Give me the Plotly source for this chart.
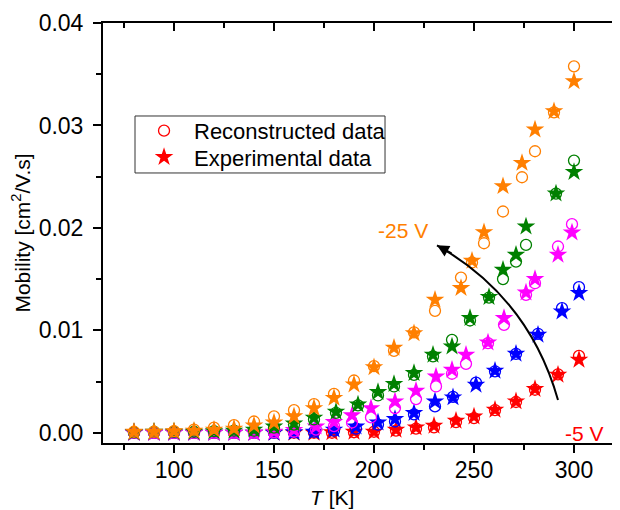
import plotly.graph_objects as go

# -5 V (red)
T_red = [80, 90, 100, 110, 120, 130, 140, 150, 160, 170, 179, 190, 200, 211, 221, 230, 241, 250, 260.5, 271, 280.5, 292, 302.5]
rec_red = [0, 0, 0, 0, 0, 0, 0, 0, 0, 0, 0, 0.00005, 0.0001, 0.00021, 0.0004, 0.00052, 0.00104, 0.00143, 0.0022, 0.0030, 0.0042, 0.0057, 0.00751]
exp_red = [0, 0, 0, 0, 0, 0, 0, 0, 0, 0, 0.00005, 0.0001, 0.0001, 0.00029, 0.00052, 0.00068, 0.00117, 0.00159, 0.00224, 0.00306, 0.00426, 0.00566, 0.00712]

# -10 V (blue)
T_blue = [80, 90, 100, 110, 120, 130, 140, 150, 160, 170, 180, 191, 202, 210.5, 220, 230.5, 239.5, 251, 260.5, 271, 282, 294, 302.5]
rec_blue = [0, 0, 0, 0, 0, 0, 0, 0, 0.00005, 0.0001, 0.0002, 0.0004, 0.0008, 0.0011, 0.0018, 0.00257, 0.0035, 0.0049, 0.0060, 0.0077, 0.00966, 0.01216, 0.01421]
exp_blue = [0, 0, 0, 0, 0, 0, 0, 0, 0.00005, 0.0001, 0.0003, 0.0006, 0.0010, 0.00134, 0.00192, 0.00306, 0.00345, 0.00468, 0.00605, 0.00771, 0.00956, 0.01183, 0.01363]

# -15 V (magenta)
T_mag = [80, 90, 100, 110, 120, 130, 140, 150, 160, 171, 180, 189, 198.5, 210.5, 221, 231, 239, 246, 257, 265, 276, 280.5, 292, 299]
rec_mag = [0, 0, 0, 0, 0, 0, 0, 0.00005, 0.0001, 0.0003, 0.00065, 0.0010, 0.0015, 0.00241, 0.00329, 0.00452, 0.00576, 0.00673, 0.00874, 0.01054, 0.01346, 0.0146, 0.01818, 0.02036]
exp_mag = [0, 0, 0, 0, 0, 0, 0, 0.0001, 0.00026, 0.0006, 0.00104, 0.0017, 0.0024, 0.00306, 0.0041, 0.00549, 0.00615, 0.00761, 0.00881, 0.01119, 0.01369, 0.015, 0.01737, 0.01954]

# -20 V (green)
T_grn = [80, 90, 100, 110, 120, 130, 140, 150, 160, 170, 181, 192, 202, 210, 220, 229.5, 239, 248, 257.5, 264.5, 271, 276, 291, 300]
rec_grn = [0.00005, 0.0001, 0.0001, 0.0001, 0.00015, 0.0002, 0.0002, 0.0005, 0.0008, 0.0013, 0.00195, 0.00267, 0.00364, 0.00452, 0.00565, 0.00745, 0.00907, 0.01096, 0.0132, 0.015, 0.01671, 0.01834, 0.02335, 0.02657]
exp_grn = [0.00005, 0.0001, 0.0001, 0.0001, 0.00015, 0.0002, 0.0003, 0.0006, 0.0009, 0.00146, 0.00205, 0.00276, 0.00397, 0.00475, 0.00582, 0.00761, 0.00842, 0.01119, 0.01324, 0.0159, 0.01737, 0.02013, 0.02335, 0.02546]

# -25 V (orange)
T_org = [80, 90, 100, 110, 120, 130, 140, 150, 160, 170, 180, 190, 200, 210, 220, 230.5, 243.5, 249, 255, 264.5, 274, 280.5, 290, 300]
rec_org = [0.0001, 0.0001, 0.00015, 0.0003, 0.0005, 0.00075, 0.0011, 0.0016, 0.0022, 0.0028, 0.0038, 0.0051, 0.0065, 0.0080, 0.0098, 0.0119, 0.01515, 0.01662, 0.0185, 0.0216, 0.02494, 0.02748, 0.03128, 0.03577]
exp_org = [0.0001, 0.0001, 0.00015, 0.0002, 0.0003, 0.0004, 0.0007, 0.0010, 0.0016, 0.0024, 0.0034, 0.0047, 0.0064, 0.0083, 0.0097, 0.01298, 0.01412, 0.01678, 0.01958, 0.02407, 0.02634, 0.02959, 0.03138, 0.03431]

legend_labels = ["Reconstructed data", "Experimental data"]

series = [
    ("-5 V", "#ff0000", T_red, rec_red, exp_red),
    ("-10 V", "#0000ff", T_blue, rec_blue, exp_blue),
    ("-15 V", "#ff00ff", T_mag, rec_mag, exp_mag),
    ("-20 V", "#008000", T_grn, rec_grn, exp_grn),
    ("-25 V", "#ff7f00", T_org, rec_org, exp_org),
]

# arrow path (data coordinates)
arrow_start = (292, 0.0032)
arrow_ctrl = (277.5, 0.0132)
arrow_end = (231.5, 0.0183)

FONT = "Arial, 'Liberation Sans', sans-serif"

fig = go.Figure()
for name, col, T, rec, ex in series:
    fig.add_trace(go.Scatter(x=T, y=rec, mode="markers", showlegend=False, name=name + " rec",
                             marker=dict(symbol="circle-open", size=11, color=col, line=dict(width=1.3, color=col))))
    fig.add_trace(go.Scatter(x=T, y=ex, mode="markers", showlegend=False, name=name + " exp",
                             marker=dict(symbol="star", size=14, color=col, line=dict(width=0))))

# legend symbols (text drawn as annotations)
fig.add_trace(go.Scatter(x=[None], y=[None], mode="markers", name="",
                         marker=dict(symbol="circle-open", size=11, color="#ff0000", line=dict(width=1.3, color="#ff0000"))))
fig.add_trace(go.Scatter(x=[None], y=[None], mode="markers", name="",
                         marker=dict(symbol="star", size=14, color="#ff0000", line=dict(width=0))))
# dummy for mirror axes
fig.add_trace(go.Scatter(x=[None], y=[None], xaxis="x2", yaxis="y2", showlegend=False, hoverinfo="skip"))

fig.add_shape(type="path",
              path=f"M {arrow_start[0]},{arrow_start[1]} Q {arrow_ctrl[0]},{arrow_ctrl[1]} {arrow_end[0]},{arrow_end[1]}",
              line=dict(color="black", width=2), xref="x", yref="y")
fig.add_annotation(x=arrow_end[0], y=arrow_end[1], ax=16, ay=9, axref="pixel", ayref="pixel",
                   showarrow=True, arrowhead=2, arrowsize=1.2, arrowwidth=2, arrowcolor="black", text="")
fig.add_annotation(x=214.3, y=0.0197, text="-25 V", showarrow=False,
                   font=dict(family=FONT, size=21, color="#ff7f00"))
fig.add_annotation(x=305, y=-0.0001, text="-5 V", showarrow=False,
                   font=dict(family=FONT, size=21, color="#ff0000"))

# legend box and texts
fig.add_shape(type="rect", xref="paper", yref="paper", x0=0.0619, x1=0.5455, y0=0.6429, y1=0.7786,
              line=dict(color="#333333", width=1), fillcolor="rgba(0,0,0,0)", layer="above")
fig.add_annotation(xref="paper", yref="paper", x=0.172, y=0.7412, xanchor="left", yanchor="middle",
                   text=legend_labels[0], showarrow=False, font=dict(family=FONT, size=22, color="black"))
fig.add_annotation(xref="paper", yref="paper", x=0.172, y=0.6779, xanchor="left", yanchor="middle",
                   text=legend_labels[1], showarrow=False, font=dict(family=FONT, size=22, color="black"))

# x-axis title as annotation (offset like the original)
fig.add_annotation(xref="paper", yref="paper", x=0.443, y=-0.1286, xanchor="center", yanchor="middle",
                   text="<i>T</i> [K]", showarrow=False, font=dict(family=FONT, size=21, color="black"))

axis_common = dict(showline=True, linecolor="black", linewidth=2, showgrid=False, zeroline=False)

fig.update_layout(
    width=612, height=502,
    margin=dict(l=95, r=0, t=15, b=67),
    paper_bgcolor="white", plot_bgcolor="white",
    font=dict(family=FONT, color="black"),
    xaxis=dict(range=[64.5, 323], dtick=50, tick0=0, ticks="outside", ticklen=8, tickwidth=2,
               tickfont=dict(size=23, family=FONT), ticklabelstandoff=-3,
               minor=dict(dtick=25, tick0=0, ticks="outside", ticklen=5, tickwidth=2, tickcolor="black"),
               tickcolor="black",
               **axis_common),
    yaxis=dict(range=[-0.001, 0.04], dtick=0.01, tick0=0, tickformat=".2f", ticks="outside", ticklen=8, tickwidth=2,
               tickfont=dict(size=23, family=FONT), tickcolor="black", ticklabelstandoff=5,
               minor=dict(dtick=0.005, tick0=0, ticks="outside", ticklen=5, tickwidth=2, tickcolor="black"),
               title=dict(text="Mobility [cm<sup>2</sup>/V.s]", font=dict(size=21, family=FONT), standoff=3),
               **axis_common),
    xaxis2=dict(overlaying="x", side="top", matches="x", range=[64.5, 323], dtick=50, tick0=0,
                ticks="inside", ticklen=8, tickwidth=2, tickcolor="black", showticklabels=False,
                minor=dict(dtick=25, tick0=0, ticks="inside", ticklen=5, tickwidth=2, tickcolor="black"),
                **axis_common),
    yaxis2=dict(overlaying="y", side="right", matches="y", range=[-0.001, 0.04], dtick=0.01, tick0=0,
                ticks="inside", ticklen=8, tickwidth=2, tickcolor="black", showticklabels=False,
                minor=dict(dtick=0.005, tick0=0, ticks="inside", ticklen=5, tickwidth=2, tickcolor="black"),
                **axis_common),
    legend=dict(x=0.0697, y=0.787, xanchor="left", yanchor="top", borderwidth=0,
                bgcolor="rgba(0,0,0,0)", font=dict(size=18, family=FONT), tracegroupgap=0, itemwidth=40),
    showlegend=True,
)

fig.write_html("out.html")
